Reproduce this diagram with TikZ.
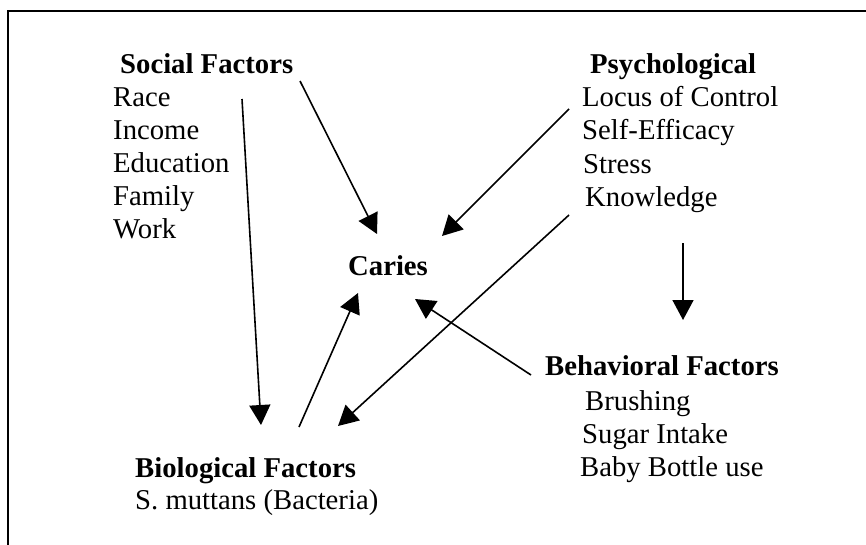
\documentclass[tikz,border=0pt]{standalone}
\usepackage{fontspec}
\setmainfont{Liberation Serif}
\usetikzlibrary{arrows.meta}
\begin{document}
\begin{tikzpicture}[x=1pt,y=-1pt,
 lbl/.style={anchor=base west,inner sep=0pt,font=\fontsize{28.7}{33}\selectfont},
 hd/.style={anchor=base west,inner sep=0pt,font=\fontsize{28.7}{33}\selectfont\bfseries},
 arr/.style={line width=1.6pt,-{Triangle[length=20pt,width=21pt]}},
 frame/.style={line width=2.2pt}]
\useasboundingbox (0,0) rectangle (866,544);
\draw[frame] (8,560) -- (8,11) -- (880,11);
% Social
\node[hd] (soc) at (120,73) {Social Factors};
\node[lbl] (race) at (113,106) {Race};
\node[lbl] (inc) at (113,139) {Income};
\node[lbl] (edu) at (113,172) {Education};
\node[lbl] (fam) at (113,205) {Family};
\node[lbl] (work) at (113,238) {Work};
% Psychological
\node[hd] (psy) at (590,73) {Psychological};
\node[lbl] (loc) at (582,106) {Locus of Control};
\node[lbl] (self) at (582,139.5) {Self-Efficacy};
\node[lbl] (str) at (583,173) {Stress};
\node[lbl] (know) at (585,206.5) {Knowledge};
% Caries
\node[hd] (car) at (348,275) {Caries};
% Behavioral
\node[hd] (beh) at (545,375) {Behavioral Factors};
\node[lbl] (bru) at (585,410) {Brushing};
\node[lbl] (sug) at (582,443) {Sugar Intake};
\node[lbl] (bab) at (580,476) {Baby Bottle use};
% Biological
\node[hd] (bio) at (135,477) {Biological Factors};
\node[lbl] (smu) at (135,509) {S. muttans (Bacteria)};
% arrow end points
\coordinate (socA) at (300,81);
\coordinate (carA) at (377,234);
\coordinate (socB) at (242,99);
\coordinate (bioA) at (261,425);
\coordinate (bioB) at (299,427);
\coordinate (carB) at (358,293);
\coordinate (knowA) at (569,215);
\coordinate (bioC) at (338,426);
\coordinate (locA) at (569,109);
\coordinate (carC) at (442,236);
\coordinate (behA) at (531,375);
\coordinate (carD) at (415,299);
\coordinate (psyA) at (683,243);
\coordinate (behB) at (683,320);
\draw[arr] (socA) -- (carA);
\draw[arr] (socB) -- (bioA);
\draw[arr] (bioB) -- (carB);
\draw[arr] (knowA) -- (bioC);
\draw[arr] (locA) -- (carC);
\draw[arr] (behA) -- (carD);
\draw[arr] (psyA) -- (behB);
\end{tikzpicture}
\end{document}
